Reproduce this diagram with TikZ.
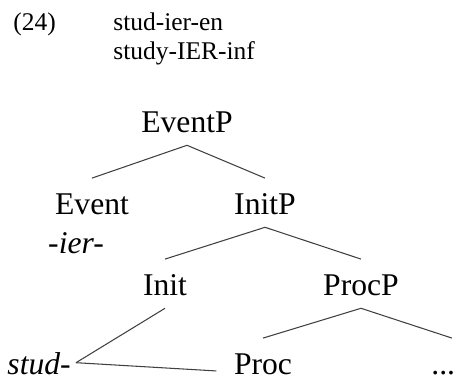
\documentclass[tikz,border=0pt]{standalone}
\usepackage{fontspec}
\setmainfont{Liberation Serif}

\begin{document}
\begin{tikzpicture}[x=0.02cm, y=-0.02cm]

\useasboundingbox (0,0) rectangle (457,381);

\begin{scope}[font=\fontsize{14.5}{17}\selectfont, anchor=base west, inner sep=0pt]
  \node (Ex_num)   at ( 13,31) {(24)};
  \node (Ex_form)  at (113,31) {stud-ier-en};
  \node (Ex_gloss) at (113,60) {study-IER-inf};
\end{scope}

\begin{scope}[font=\fontsize{18}{21}\selectfont, anchor=base, inner sep=0pt, text height=14pt, text depth=0pt, outer ysep=7pt]
  \node                                 (EventP) at (187,133) {EventP};
  \node                                 (Event)  at ( 92,215) {Event};
  \node                                 (InitP)  at (265,215) {InitP};
  \node[font=\fontsize{18}{21}\selectfont\itshape] (Ier) at (76,254) {-ier-};
  \node                                 (Init)   at (165,296) {Init};
  \node                                 (ProcP)  at (361,296) {ProcP};
  \node[font=\fontsize{18}{21}\selectfont\itshape, anchor=base east, outer xsep=3pt] (Stud) at (76,375) {stud-};
  \node[outer xsep=10pt]                (Proc)   at (263,375) {Proc};
  \node[anchor=base west]               (Dots)   at (431,375) {...};
\end{scope}

\begin{scope}[draw=black!75, line width=0.6pt]
\path (EventP.south) edge (Event.north);
\path (EventP.south) edge (InitP.north);

\path (InitP.south) edge (Init.north);
\path (InitP.south) edge (ProcP.north);

\path (ProcP.south) edge (Proc.north);
\path (ProcP.south) edge ([xshift=5pt]Dots.north);

\path (Init.south) edge (Stud.east);
\path (Stud.east)  edge (Proc.mid west);
\end{scope}

\end{tikzpicture}
\end{document}
